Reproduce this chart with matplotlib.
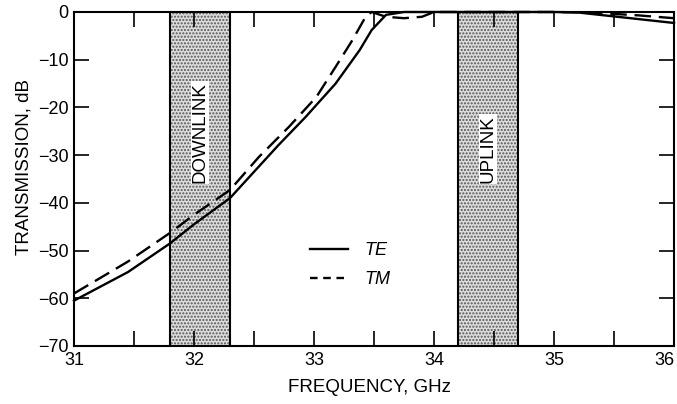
import matplotlib.pyplot as plt
from matplotlib.lines import Line2D
import numpy as np

plt.rcParams['font.family'] = ['Liberation Sans', 'DejaVu Sans']

# frequency (GHz) and transmission (dB)
te_freq = [31.0, 31.45, 31.8, 32.0, 32.3, 32.7, 32.93, 33.18, 33.38, 33.48, 33.6, 33.75, 34.0, 34.5, 35.0, 35.2, 35.6, 36.0]
te_db = [-60.5, -54.5, -48.5, -44.5, -39.0, -28.0, -22.0, -15.0, -8.0, -3.8, -0.6, 0.0, 0.0, 0.0, 0.0, -0.1, -1.2, -2.3]

tm_freq = [31.0, 31.45, 31.8, 32.0, 32.3, 32.54, 32.79, 33.02, 33.18, 33.32, 33.43, 33.48, 33.6, 33.75, 33.9, 34.0, 34.5, 35.0, 35.3, 35.7, 36.0]
tm_db = [-59.0, -52.3, -46.3, -42.5, -37.3, -30.4, -24.1, -17.8, -11.5, -5.9, -1.0, 0.0, -1.0, -1.3, -1.0, 0.0, 0.0, 0.0, -0.1, -0.7, -1.3]

bands = [(31.8, 32.3), (34.2, 34.7)]
band_labels = ['DOWNLINK', 'UPLINK']

fig = plt.figure(figsize=(6.77, 4.04), dpi=100)
ax = fig.add_axes([0.1093, 0.1436, 0.8863, 0.8267])

# shaded frequency bands
for (lo, hi), name in zip(bands, band_labels):
    ax.axvspan(lo, hi, facecolor='#dcdcdc', edgecolor='#555555', hatch='.....', lw=0, zorder=1)
    ax.axvline(lo, color='black', lw=1.5, zorder=2)
    ax.axvline(hi, color='black', lw=1.5, zorder=2)
    ax.text((lo + hi) / 2, -35.8, name, rotation=90, ha='center', va='bottom',
            fontsize=13.5, zorder=3,
            bbox=dict(facecolor='white', edgecolor='none', pad=0.5))

ax.plot(te_freq, te_db, color='black', lw=1.7, zorder=4, clip_on=False)
ax.plot(tm_freq, tm_db, color='black', lw=1.7, ls=(0, (7, 3.3)), zorder=4, clip_on=False)

ax.set_xlim(31, 36)
ax.set_ylim(-70, 0)
ax.set_xticks(np.arange(31, 36.5, 1))
ax.set_xticks(np.arange(31.5, 36, 1), minor=True)
ax.set_yticks(np.arange(-70, 1, 10))
ax.set_yticklabels(['\u221270', '\u221260', '\u221250', '\u221240', '\u221230', '\u221220', '\u221210', '0'])
ax.tick_params(which='both', direction='in', length=11, width=1.2,
               top=True, right=True, labelsize=13, pad=4)

for lab in ax.get_xticklabels()[-1:]:
    lab.set_horizontalalignment('right')

for s in ax.spines.values():
    s.set_linewidth(1.5)

ax.set_xlabel('FREQUENCY, GHz', fontsize=13.5)
ax.set_ylabel('TRANSMISSION, dB', fontsize=13.5)
ax.xaxis.set_label_coords(0.4925, -0.1)
ax.yaxis.set_label_coords(-0.069, 0.536)

handles = [Line2D([], [], color='black', lw=1.7),
           Line2D([], [], color='black', lw=1.7, ls=(0, (3.2, 2.4)))]
leg = ax.legend(handles, ['TE', 'TM'], loc='upper left', bbox_to_anchor=(0.393, 0.31),
                frameon=False, fontsize=13, handlelength=2.1, handletextpad=0.9,
                labelspacing=0.65, borderpad=0, borderaxespad=0)
for t in leg.get_texts():
    t.set_fontstyle('italic')

fig.savefig('out.png', dpi=100)
